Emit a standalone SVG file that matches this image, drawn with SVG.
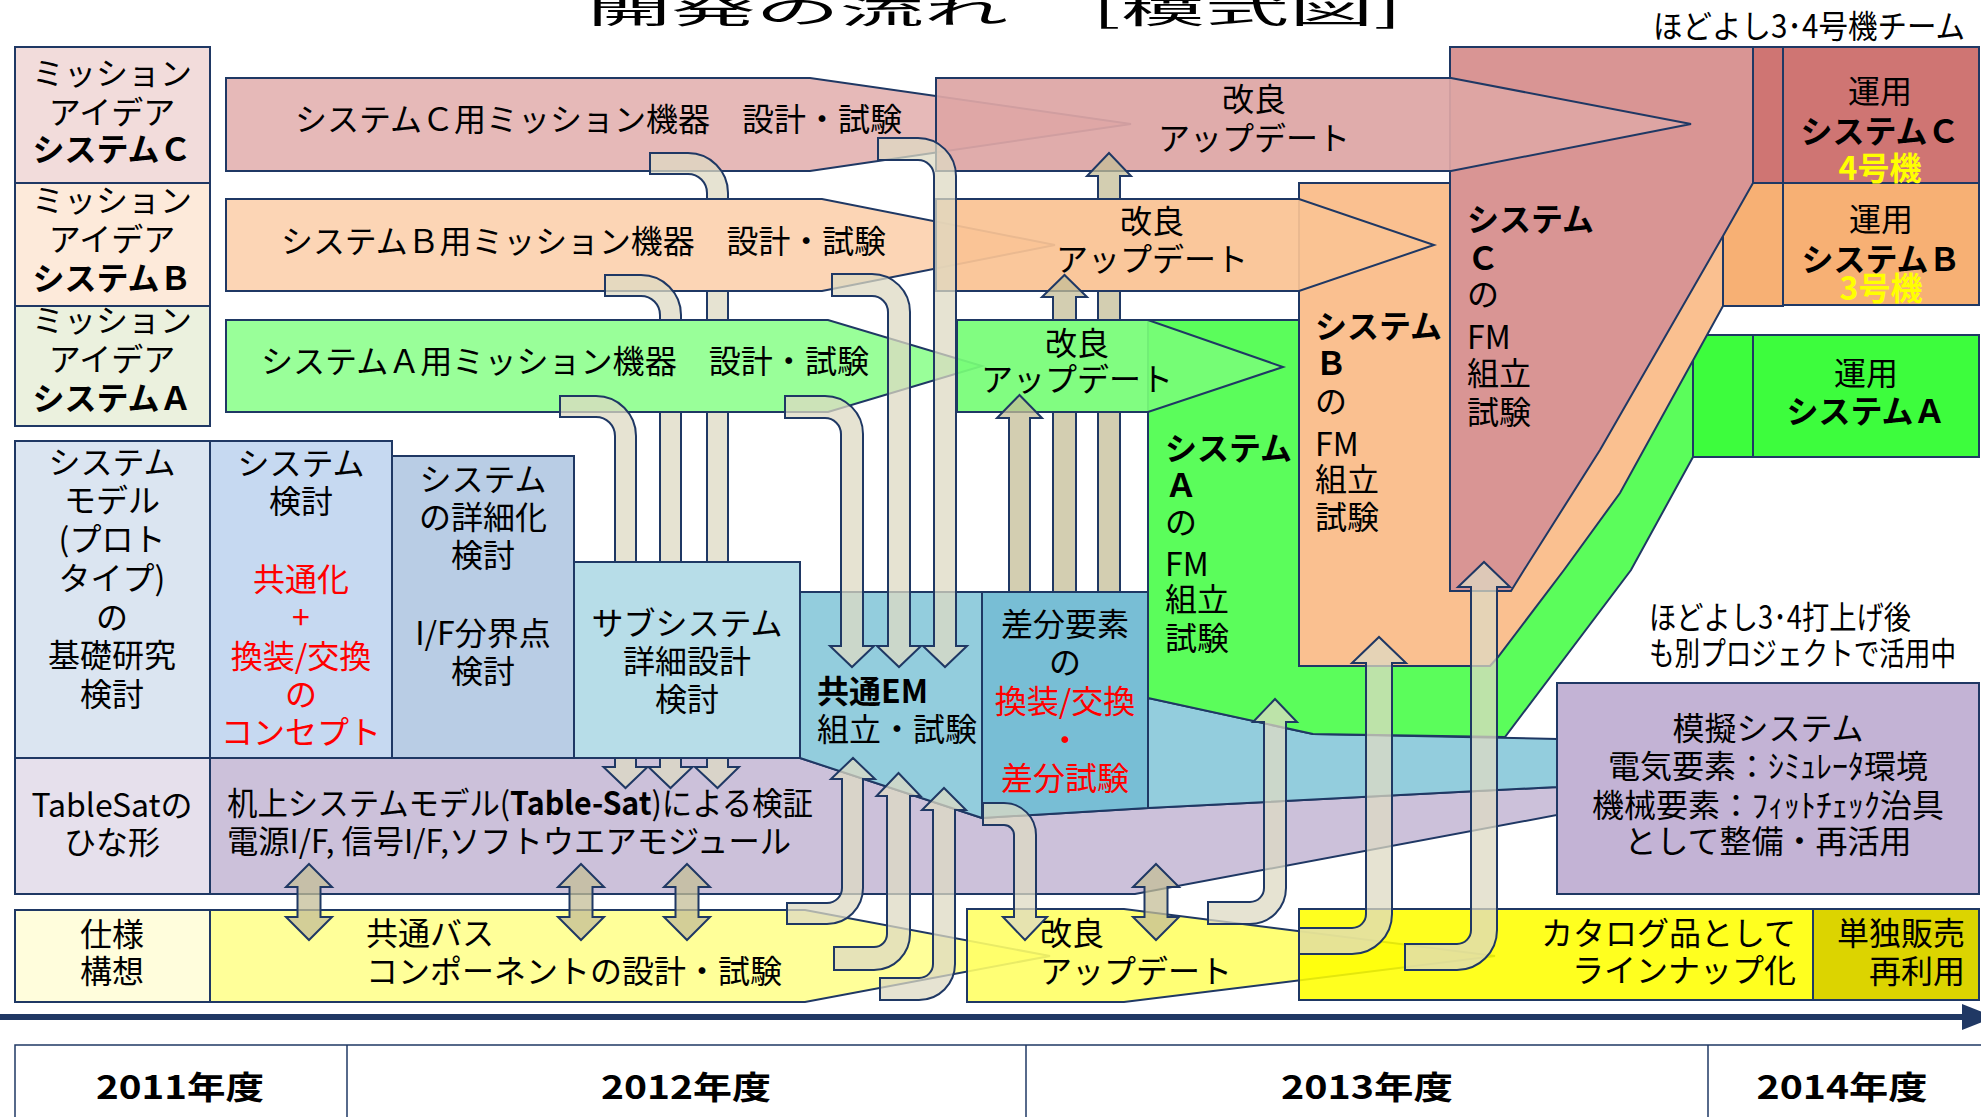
<svg xmlns="http://www.w3.org/2000/svg" width="1981" height="1117" viewBox="0 0 1981 1117">
<style>
.t{font-family:"Noto Sans CJK JP","Noto Sans CJK SC",sans-serif;font-size:32px;fill:#000}
.m{text-anchor:middle}
.e{text-anchor:end}
.b{font-weight:bold}
.r{fill:#ff0000}
.y{fill:#ffff00}
.ol{stroke:#1f3864;stroke-width:2}
.cb{fill:#ddd9c3;fill-opacity:.75;stroke:#1f3864;stroke-width:2}
.cs{fill:#c4bd97;fill-opacity:.75;stroke:#1f3864;stroke-width:2}
</style>
<defs>
<mask id="mBA" maskUnits="userSpaceOnUse" x="0" y="0" width="1981" height="1117">
<rect width="1981" height="1117" fill="#fff"/>
<g fill="#000" stroke="#000" stroke-width="2">
<polygon points="226,199 822,199 1055,245 822,291 226,291"/>
<polygon points="936,199 1299,199 1434,245 1299,291 936,291"/>
<polygon points="226,320 828,320 982,366 828,412 226,412"/>
<polygon points="957,320 1148,320 1283,367 1148,412 957,412"/>
<rect x="574" y="562" width="226" height="196"/>
<polygon points="982,592 1148,592 1148,808 982,818"/>
</g></mask>
<mask id="mA" maskUnits="userSpaceOnUse" x="0" y="0" width="1981" height="1117">
<rect width="1981" height="1117" fill="#fff"/>
<g fill="#000" stroke="#000" stroke-width="2">
<polygon points="226,320 828,320 982,366 828,412 226,412"/>
<polygon points="957,320 1148,320 1283,367 1148,412 957,412"/>
<rect x="574" y="562" width="226" height="196"/>
<polygon points="982,592 1148,592 1148,808 982,818"/>
</g></mask>
<mask id="mS" maskUnits="userSpaceOnUse" x="0" y="0" width="1981" height="1117">
<rect width="1981" height="1117" fill="#fff"/>
<g fill="#000" stroke="#000" stroke-width="2">
<rect x="574" y="562" width="226" height="196"/>
<polygon points="982,592 1148,592 1148,808 982,818"/>
</g></mask>
</defs>
<rect width="1981" height="1117" fill="#fff"/>

<g id="title">
<text class="t" x="587" y="23" font-size="84" textLength="815" lengthAdjust="spacingAndGlyphs">開発の流れ　[模式図]</text>
<text class="t" x="1653" y="38" font-size="28" textLength="312" lengthAdjust="spacingAndGlyphs">ほどよし3･4号機チーム</text>
</g>

<g id="mission-c"><rect class="ol" x="15" y="47" width="195" height="136" fill="#f2dcdb"/>
<text class="t m" x="112" y="85">ミッション</text><text class="t m" x="112" y="124">アイデア</text><text class="t m b" x="112" y="161">システムＣ</text></g>
<g id="mission-b"><rect class="ol" x="15" y="183" width="195" height="123" fill="#fdeada"/>
<text class="t m" x="112" y="212">ミッション</text><text class="t m" x="112" y="251">アイデア</text><text class="t m b" x="112" y="290">システムＢ</text></g>
<g id="mission-a"><rect class="ol" x="15" y="306" width="195" height="120" fill="#ebf1de"/>
<text class="t m" x="112" y="332">ミッション</text><text class="t m" x="112" y="371">アイデア</text><text class="t m b" x="112" y="410">システムＡ</text></g>

<g id="lower-bands">
<polygon class="ol" points="210,758 800,758 982,818 1148,808 1557,787 1557,815 1135,894 210,894" fill="#ccc1da"/>
<text class="t" x="227" y="815" textLength="586" lengthAdjust="spacingAndGlyphs">机上システムモデル(<tspan class="b">Table-Sat</tspan>)による検証</text>
<text class="t" x="227" y="853" textLength="564" lengthAdjust="spacingAndGlyphs">電源I/F, 信号I/F,ソフトウエアモジュール</text>
</g>
<g id="tablesat"><rect class="ol" x="15" y="758" width="195" height="136" fill="#e6e0ec"/>
<text class="t m" x="112" y="817" font-size="28">TableSatの</text><text class="t m" x="112" y="854" font-size="30">ひな形</text></g>
<g id="blue-band"><polygon class="ol" points="1148,698 1313,734 1557,739 1557,787 1148,808" fill="#93cddd"/></g>
<g id="mogi"><rect class="ol" x="1557" y="683" width="422" height="211" fill="#c3b3d5"/>
<text class="t m" x="1768" y="740">模擬システム</text>
<text class="t m" x="1768" y="778">電気要素：ｼﾐｭﾚｰﾀ環境</text>
<text class="t m" x="1768" y="817">機械要素：ﾌｨｯﾄﾁｪｯｸ治具</text>
<text class="t m" x="1768" y="853">として整備・再活用</text></g>

<g id="fm-a">
<polygon class="ol" points="1148,320 1693,320 1693,457 1631,570 1505,737 1313,734 1148,698" fill="#5bfd5b"/>
<rect class="ol" x="1693" y="335" width="60" height="122" fill="#3dfd3d"/>
</g>
<g id="unyo-a"><rect class="ol" x="1753" y="335" width="226" height="122" fill="#3dfd3d"/>
<text class="t m" x="1866" y="385">運用</text><text class="t m b" x="1866" y="423">システムＡ</text></g>
<g id="fm-b">
<polygon class="ol" points="1299,183 1723,183 1723,306 1620,493 1564,570 1498,657 1490,666 1299,666" fill="#fac090"/>
<rect class="ol" x="1723" y="183" width="60" height="123" fill="#f7b074"/>
</g>
<g id="unyo-b"><rect class="ol" x="1783" y="183" width="196" height="122" fill="#f7b074"/>
<text class="t m" x="1881" y="231">運用</text><text class="t m b" x="1881" y="271">システムＢ</text><text class="t m b y" x="1881" y="300">3号機</text></g>
<g id="fm-c">
<polygon class="ol" points="1450,47 1753,47 1753,183 1723,236 1600,450 1524,570 1511,591 1450,591" fill="#d99594"/>
<rect class="ol" x="1753" y="47" width="30" height="136" fill="#cf7573"/>
</g>
<g id="unyo-c"><rect class="ol" x="1783" y="47" width="196" height="136" fill="#cf7573"/>
<text class="t m" x="1880" y="103">運用</text><text class="t m b" x="1880" y="143">システムＣ</text><text class="t m b y" x="1880" y="180">4号機</text></g>

<g id="band-c1"><polygon class="ol" points="226,78 810,78 1131,124 810,171 226,171" fill="#e6b9b8"/>
<text class="t" x="295" y="131" textLength="607" lengthAdjust="spacingAndGlyphs">システムＣ用ミッション機器　設計・試験</text></g>
<g id="band-c2"><polygon class="ol" points="936,78 1451,78 1691,124 1451,171 936,171" fill="#dea6a5" fill-opacity=".93"/>
<text class="t m" x="1254" y="111">改良</text><text class="t m" x="1254" y="150">アップデート</text></g>
<g id="band-b1"><polygon class="ol" points="226,199 822,199 1055,245 822,291 226,291" fill="#fcd5b5"/>
<text class="t" x="281" y="253" textLength="605" lengthAdjust="spacingAndGlyphs">システムＢ用ミッション機器　設計・試験</text></g>
<g id="band-b2"><polygon class="ol" points="936,199 1299,199 1434,245 1299,291 936,291" fill="#fac393" fill-opacity=".93"/>
<text class="t m" x="1152" y="233">改良</text><text class="t m" x="1152" y="271">アップデート</text></g>
<g id="band-a1"><polygon class="ol" points="226,320 828,320 982,366 828,412 226,412" fill="#99ff99"/>
<text class="t" x="261" y="373" textLength="608" lengthAdjust="spacingAndGlyphs">システムＡ用ミッション機器　設計・試験</text></g>
<g id="band-a2"><polygon class="ol" points="957,320 1148,320 1283,367 1148,412 957,412" fill="#77fd77" fill-opacity=".93"/>
<text class="t m" x="1077" y="355">改良</text><text class="t m" x="1077" y="391">アップデート</text></g>

<g id="fm-texts">
<text class="t b" x="1467" y="231">システム</text><text class="t b" x="1467" y="270">Ｃ</text><text class="t" x="1467" y="306">の</text><text class="t" x="1467" y="349">FM</text><text class="t" x="1467" y="385">組立</text><text class="t" x="1467" y="424">試験</text>
<text class="t b" x="1315" y="338">システム</text><text class="t b" x="1315" y="375">Ｂ</text><text class="t" x="1315" y="413">の</text><text class="t" x="1315" y="456">FM</text><text class="t" x="1315" y="491">組立</text><text class="t" x="1315" y="529">試験</text>
<text class="t b" x="1165" y="460">システム</text><text class="t b" x="1165" y="497">Ａ</text><text class="t" x="1165" y="534">の</text><text class="t" x="1165" y="576">FM</text><text class="t" x="1165" y="611">組立</text><text class="t" x="1165" y="650">試験</text>
</g>

<g id="system-model"><rect class="ol" x="15" y="441" width="195" height="317" fill="#dbe5f1"/>
<text class="t m" x="112" y="474">システム</text><text class="t m" x="112" y="512">モデル</text><text class="t m" x="112" y="551">(プロト</text><text class="t m" x="112" y="590">タイプ)</text><text class="t m" x="112" y="629">の</text><text class="t m" x="112" y="667">基礎研究</text><text class="t m" x="112" y="706">検討</text></g>
<g id="system-kento"><rect class="ol" x="210" y="441" width="182" height="317" fill="#c6d9f1"/>
<text class="t m" x="301" y="475">システム</text><text class="t m" x="301" y="513">検討</text><text class="t m r" x="301" y="591">共通化</text><text class="t m r" x="301" y="629">+</text><text class="t m r" x="301" y="668">換装/交換</text><text class="t m r" x="301" y="706">の</text><text class="t m r" x="301" y="744">コンセプト</text></g>
<g id="system-detail"><rect class="ol" x="392" y="456" width="182" height="302" fill="#b9cde5"/>
<text class="t m" x="483" y="491">システム</text><text class="t m" x="483" y="529">の詳細化</text><text class="t m" x="483" y="567">検討</text><text class="t m" x="483" y="645">I/F分界点</text><text class="t m" x="483" y="683">検討</text></g>
<g id="subsystem"><rect class="ol" x="574" y="562" width="226" height="196" fill="#b7dde8"/>
<text class="t m" x="687" y="635">サブシステム</text><text class="t m" x="687" y="673">詳細設計</text><text class="t m" x="687" y="711">検討</text></g>
<g id="common-em"><polygon class="ol" points="800,592 982,592 982,818 800,758" fill="#93cddd"/>
<text class="t b" x="817" y="703">共通EM</text><text class="t" x="817" y="741">組立・試験</text></g>
<g id="diff"><polygon class="ol" points="982,592 1148,592 1148,808 982,818" fill="#78bed5"/>
<text class="t m" x="1065" y="636">差分要素</text><text class="t m" x="1065" y="674">の</text><text class="t m r" x="1065" y="713">換装/交換</text><text class="t m r" x="1065" y="752">・</text><text class="t m r" x="1065" y="790">差分試験</text></g>

<g id="shiyo"><rect class="ol" x="15" y="910" width="195" height="92" fill="#fffddc"/>
<text class="t m" x="112" y="946">仕様</text><text class="t m" x="112" y="983">構想</text></g>
<g id="bus"><polygon class="ol" points="210,910 805,910 1050,956 805,1002 210,1002" fill="#ffff99"/>
<text class="t" x="366" y="945">共通バス</text><text class="t" x="366" y="983">コンポーネントの設計・試験</text></g>
<g id="bus-update"><polygon class="ol" points="967,909 1124,909 1495,956 1124,1002 967,1002" fill="#ffff66" fill-opacity=".9"/>
<text class="t" x="1040" y="945">改良</text><text class="t" x="1040" y="983">アップデート</text></g>
<g id="catalog"><rect class="ol" x="1299" y="909" width="514" height="91" fill="#ffff00" fill-opacity=".88"/>
<text class="t e" x="1796" y="945">カタログ品として</text><text class="t e" x="1796" y="982">ラインナップ化</text></g>
<g id="sale"><rect class="ol" x="1813" y="909" width="166" height="91" fill="#dcd400"/>
<text class="t e" x="1965" y="945">単独販売</text><text class="t e" x="1965" y="983">再利用</text></g>

<g id="note"><text class="t" x="1649" y="629" font-size="27" textLength="262" lengthAdjust="spacingAndGlyphs">ほどよし3･4打上げ後</text><text class="t" x="1649" y="665" font-size="27" textLength="307" lengthAdjust="spacingAndGlyphs">も別プロジェクトで活用中</text></g>

<g id="connectors">
<path class="cb" mask="url(#mBA)" d="M650,153 H688 A40,40 0 0 1 728,193 V767 H739 L717.5,788 L695,767 H707 V193 A19,19 0 0 0 688,174 H650 Z"/>
<path class="cb" mask="url(#mA)" d="M605,275 H641 A40,40 0 0 1 681,315 V767 H692.5 L670.5,788 L648.5,767 H660 V315 A19,19 0 0 0 641,296 H605 Z"/>
<path class="cb" mask="url(#mS)" d="M560,396 H596 A40,40 0 0 1 636,436 V767 H647.5 L625.5,788 L603.5,767 H615 V436 A19,19 0 0 0 596,417 H560 Z"/>
<path class="cb" d="M878,138 H918 A38,38 0 0 1 956,176 V646 H967 L945,667 L923,646 H934 V176 A16,16 0 0 0 918,160 H878 Z"/>
<path class="cb" d="M832,274 H872 A38,38 0 0 1 910,312 V646 H921 L899,667 L877,646 H888 V312 A16,16 0 0 0 872,296 H832 Z"/>
<path class="cb" d="M785,396 H825 A38,38 0 0 1 863,434 V646 H874 L852,667 L830,646 H841 V434 A16,16 0 0 0 825,418 H785 Z"/>
<path class="cs" mask="url(#mBA)" d="M1098,600 V176 H1087 L1109,153 L1131,176 H1120 V600 Z"/>
<path class="cs" mask="url(#mA)" d="M1053,600 V297 H1042 L1064.5,275 L1087,297 H1076 V600 Z"/>
<path class="cs" mask="url(#mS)" d="M1009,600 V418 H997 L1019.5,395 L1042,418 H1030 V600 Z"/>
<path class="cb" d="M983,803 H1004 A32,32 0 0 1 1036,835 V917 H1047 L1025,940 L1003,917 H1014 V835 A10,10 0 0 0 1004,825 H983 Z"/>
<path class="cb" d="M787,924 H827 A36,36 0 0 0 863,888 V779 H875 L853,758 L831,779 H842 V888 A15,15 0 0 1 827,903 H787 Z"/>
<path class="cb" d="M834,970 H874 A36,36 0 0 0 910,934 V796 H920.5 L898.5,773 L876.5,796 H887 V934 A13,13 0 0 1 874,947 H834 Z"/>
<path class="cb" d="M880,1000 H919 A36,36 0 0 0 955,964 V810 H966 L944,788 L922,810 H933 V964 A14,14 0 0 1 919,978 H880 Z"/>
<path class="cb" d="M1208,924 H1250 A36,36 0 0 0 1286,888 V722 H1297 L1275,699 L1253,722 H1264 V888 A14,14 0 0 1 1250,902 H1208 Z"/>
<path class="cb" d="M1299,954 H1352 A40,40 0 0 0 1392,914 V663 H1406 L1379,637 L1352,663 H1366 V914 A14,14 0 0 1 1352,928 H1299 Z"/>
<path class="cb" d="M1405,970 H1457 A40,40 0 0 0 1497,930 V587 H1510 L1484,562 L1458,587 H1471 V930 A14,14 0 0 1 1457,944 H1405 Z"/>
<path class="cs" d="M309,864 L332,887 H320.5 V917 H332 L309,940 L286,917 H297.5 V887 H286 Z"/>
<path class="cs" d="M581,864 L604,887 H592.5 V917 H604 L581,940 L558,917 H569.5 V887 H558 Z"/>
<path class="cs" d="M687,864 L710,887 H698.5 V917 H710 L687,940 L664,917 H675.5 V887 H664 Z"/>
<path class="cs" d="M1156,864 L1179,887 H1167.5 V917 H1179 L1156,940 L1133,917 H1144.5 V887 H1133 Z"/>
</g>

<g id="timeline">
<line x1="0" y1="1017" x2="1965" y2="1017" stroke="#203864" stroke-width="6"/>
<polygon points="1962,1004 1995,1017 1962,1030" fill="#203864"/>
</g>
<g id="years">
<rect x="15" y="1045" width="1980" height="90" fill="#fff" stroke="#1f3864" stroke-width="1.5"/>
<line x1="347" y1="1045" x2="347" y2="1117" stroke="#1f3864" stroke-width="1.5"/>
<line x1="1026" y1="1045" x2="1026" y2="1117" stroke="#1f3864" stroke-width="1.5"/>
<line x1="1708" y1="1045" x2="1708" y2="1117" stroke="#1f3864" stroke-width="1.5"/>
<text class="t m b" x="180" y="1099" font-size="46" textLength="168" lengthAdjust="spacingAndGlyphs">2011年度</text>
<text class="t m b" x="686" y="1099" font-size="46" textLength="170" lengthAdjust="spacingAndGlyphs">2012年度</text>
<text class="t m b" x="1367" y="1099" font-size="46" textLength="172" lengthAdjust="spacingAndGlyphs">2013年度</text>
<text class="t m b" x="1842" y="1099" font-size="46" textLength="171" lengthAdjust="spacingAndGlyphs">2014年度</text>
</g>
</svg>
